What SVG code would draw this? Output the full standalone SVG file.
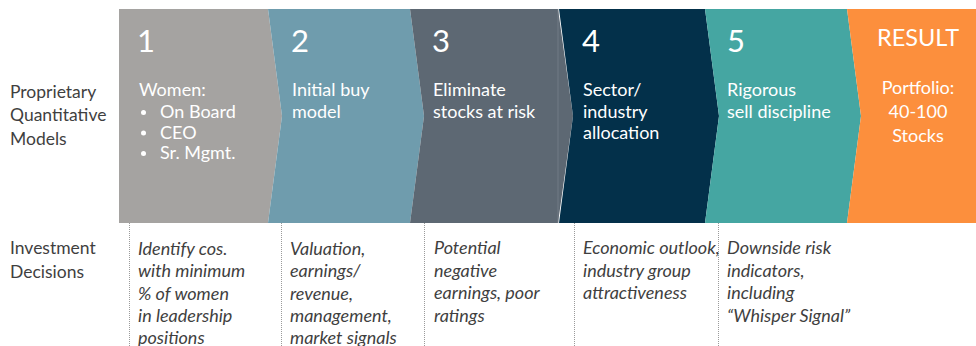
<svg xmlns="http://www.w3.org/2000/svg" width="976" height="346" viewBox="0 0 976 346">
<style>
.num{font-family:Lato,"Liberation Sans",sans-serif;font-weight:400;font-size:31px;fill:#ffffff}
.res{font-family:Lato,"Liberation Sans",sans-serif;font-weight:400;font-size:23.5px;fill:#ffffff}
.bt{font-family:Lato,"Liberation Sans",sans-serif;font-size:18px;fill:#ffffff}
.lbl{font-family:Lato,"Liberation Sans",sans-serif;font-size:17.5px;fill:#3f3f3f}
.it{font-family:Lato,"Liberation Sans",sans-serif;font-style:italic;font-size:18px;fill:#3f3f3f}
.sep{stroke:#9a9a9a;stroke-width:1;stroke-dasharray:1 1;fill:none}
</style>
<rect width="976" height="346" fill="#ffffff"/>
<g id="labels">
<text class="lbl" x="10" y="97.5">Proprietary</text>
<text class="lbl" x="10" y="121">Quantitative</text>
<text class="lbl" x="10" y="144.5">Models</text>
<text class="lbl" x="10" y="254">Investment</text>
<text class="lbl" x="10" y="278">Decisions</text>
</g>
<g id="separators">
<line class="sep" x1="129.5" y1="223" x2="129.5" y2="346"/>
<line class="sep" x1="281.5" y1="223" x2="281.5" y2="346"/>
<line class="sep" x1="424.5" y1="223" x2="424.5" y2="346"/>
<line class="sep" x1="574.5" y1="223" x2="574.5" y2="346"/>
<line class="sep" x1="718.5" y1="223" x2="718.5" y2="346"/>
</g>
<g id="step1">
<polygon points="119,9 268,9 282,116 268,223 119,223" fill="#A5A3A1"/>
<text class="num" x="137" y="52">1</text>
<text class="bt" x="139" y="96">Women:</text>
<circle cx="143.5" cy="112.5" r="2.5" fill="#ffffff"/>
<text class="bt" x="160" y="118">On Board</text>
<circle cx="143.5" cy="133" r="2.5" fill="#ffffff"/>
<text class="bt" x="160" y="138.5">CEO</text>
<circle cx="143.5" cy="153.5" r="2.5" fill="#ffffff"/>
<text class="bt" x="160" y="159">Sr. Mgmt.</text>
<text class="it" x="138" y="254.5">Identify cos.</text>
<text class="it" x="138" y="277">with minimum</text>
<text class="it" x="138" y="299.5">% of women</text>
<text class="it" x="138" y="321.5">in leadership</text>
<text class="it" x="138" y="343.5">positions</text>
</g>
<g id="step2">
<polygon points="268,9 410,9 424,116 410,223 268,223 282,116" fill="#6F9CAD"/>
<text class="num" x="291" y="52">2</text>
<text class="bt" x="292" y="96">Initial buy</text>
<text class="bt" x="292" y="117.5">model</text>
<text class="it" x="290" y="254.5">Valuation,</text>
<text class="it" x="290" y="277">earnings/</text>
<text class="it" x="290" y="299.5">revenue,</text>
<text class="it" x="290" y="321.5">management,</text>
<text class="it" x="290" y="343.5">market signals</text>
</g>
<g id="step3">
<polygon points="410,9 558,9 573,116 558,223 410,223 424,116" fill="#5D6873"/>
<line x1="558" y1="9" x2="558" y2="223" stroke="#76818b" stroke-width="0.8"/>
<text class="num" x="432" y="52">3</text>
<text class="bt" x="433" y="96">Eliminate</text>
<text class="bt" x="433" y="117.5">stocks at risk</text>
<text class="it" x="434" y="254">Potential</text>
<text class="it" x="434" y="276.5">negative</text>
<text class="it" x="434" y="299">earnings, poor</text>
<text class="it" x="434" y="321.5">ratings</text>
</g>
<g id="step4">
<polygon points="559,9 705,9 719,116 705,223 559,223 573,116" fill="#03304A"/>
<text class="num" x="582" y="52">4</text>
<text class="bt" x="583" y="96">Sector/</text>
<text class="bt" x="583" y="117.5">industry</text>
<text class="bt" x="583" y="138.5">allocation</text>
<text class="it" x="583" y="254">Economic outlook,</text>
<text class="it" x="583" y="276.5">industry group</text>
<text class="it" x="583" y="299">attractiveness</text>
</g>
<g id="step5">
<polygon points="705,9 847,9 861,116 847,223 705,223 719,116" fill="#45A6A2"/>
<text class="num" x="727" y="52">5</text>
<text class="bt" x="727" y="96">Rigorous</text>
<text class="bt" x="727" y="117.5">sell discipline</text>
<text class="it" x="727" y="254">Downside risk</text>
<text class="it" x="727" y="276.5">indicators,</text>
<text class="it" x="727" y="299">including</text>
<text class="it" x="727" y="321.5">“Whisper Signal”</text>
</g>
<g id="result">
<polygon points="847,9 976,9 976,223 847,223 861,116" fill="#FC8F3D"/>
<text class="res" x="918" y="46" text-anchor="middle">RESULT</text>
<text class="bt" x="918" y="93.5" text-anchor="middle">Portfolio:</text>
<text class="bt" x="918" y="117.5" text-anchor="middle">40-100</text>
<text class="bt" x="918" y="141.5" text-anchor="middle">Stocks</text>
</g>
</svg>
